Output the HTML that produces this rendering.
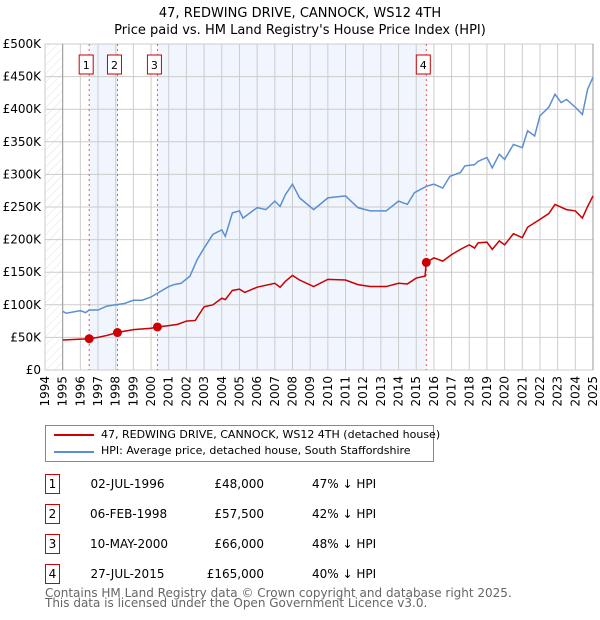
<!DOCTYPE html>
<html><head><meta charset="utf-8"><style>
body{margin:0;background:#fff;font-family:"DejaVu Sans","Liberation Sans",sans-serif;}
#wrap{position:relative;width:600px;height:620px;overflow:hidden}
.t{position:absolute;font-size:12px;color:#000;white-space:nowrap}
.box{position:absolute;width:13px;height:18px;border:1px solid #c00;font-size:12px;text-align:center;line-height:18px}
</style></head><body><div id="wrap">
<svg id="chart" width="600" height="420" style="position:absolute;left:0;top:0">
<defs><pattern id="hatch" width="6" height="6" patternUnits="userSpaceOnUse" patternTransform="rotate(45)"><line x1="0" y1="0" x2="0" y2="6" stroke="#e2e2e2" stroke-width="1"/></pattern></defs>
<text x="300" y="17" text-anchor="middle" font-size="13">47, REDWING DRIVE, CANNOCK, WS12 4TH</text>
<text x="300" y="34" text-anchor="middle" font-size="13">Price paid vs. HM Land Registry's House Price Index (HPI)</text>
<g id="bg"></g><g id="grid"></g><g id="lines"></g><g id="axes"></g>
</svg>
<div style="position:absolute;left:45px;top:425px;width:387px;height:35px;border:1px solid #888;font-size:11px">
<div style="position:absolute;left:8px;top:8px;width:40px;height:2px;background:#c00"></div>
<div class="t" style="left:55px;top:2px;font-size:11px">47, REDWING DRIVE, CANNOCK, WS12 4TH (detached house)</div>
<div style="position:absolute;left:8px;top:25px;width:40px;height:2px;background:#5b8fd1"></div>
<div class="t" style="left:55px;top:18px;font-size:11px">HPI: Average price, detached house, South Staffordshire</div>
</div>
<div id="table"></div>
<div class="t" style="left:45px;top:588px;color:#666;font-size:12px;line-height:10px">Contains HM Land Registry data © Crown copyright and database right 2025.<br>This data is licensed under the Open Government Licence v3.0.</div>
</div>
<script>
const hpiYears=[1995,1995.2,1996,1996.3,1996.5,1997,1997.5,1998,1998.5,1999,1999.5,2000,2000.5,2001,2001.3,2001.7,2002.2,2002.6,2003,2003.5,2004,2004.2,2004.6,2005,2005.2,2006,2006.5,2007,2007.3,2007.6,2008,2008.4,2009.2,2010,2011,2011.7,2012.4,2013.3,2014,2014.5,2014.9,2015.6,2016,2016.5,2016.9,2017.5,2017.75,2018.3,2018.5,2019,2019.3,2019.7,2020,2020.5,2021,2021.3,2021.7,2022,2022.5,2022.85,2023.2,2023.5,2024,2024.4,2024.7,2025];
const hpiValues=[90,87,91,88,92,92,98,100,102,107,107,112,120,128,131,133,144,169,187,208,215,205,241,244,233,249,246,259,251,269,285,264,246,264,267,249,244,244,259,254,272,282,285,279,297,303,313,315,320,326,310,331,323,346,341,367,359,390,403,423,410,415,403,392,431,449];
const priceYears=[1995,1996.5,1997,1997.5,1998.1,1999,2000,2000.36,2001,2001.5,2002,2002.5,2003,2003.5,2004,2004.2,2004.6,2005,2005.3,2006,2007,2007.3,2007.6,2008,2008.4,2009.2,2010,2011,2011.7,2012.4,2013.3,2014,2014.5,2015,2015.5,2015.57,2016,2016.5,2017,2017.5,2018,2018.3,2018.5,2019,2019.3,2019.7,2020,2020.5,2021,2021.3,2022,2022.5,2022.85,2023.5,2024,2024.4,2024.7,2025];
const priceValues=[46,48,50,53,57.5,62,64,66,68,70,75,76,97,100,110,108,122,124,119,127,133,127,136,145,138,128,139,138,131,128,128,133,132,141,144,165,172,167,177,185,192,187,195,196,185,198,192,209,203,219,231,240,254,246,244,233,251,267];
const saleYears=[1996.5,1998.1,2000.36,2015.57];
const saleValues=[48,57.5,66,165];
const saleDates=["02-JUL-1996","06-FEB-1998","10-MAY-2000","27-JUL-2015"];
const salePrices=["£48,000","£57,500","£66,000","£165,000"];
const saleHpi=["47% ↓ HPI","42% ↓ HPI","48% ↓ HPI","40% ↓ HPI"];
const yTicks=[0,50,100,150,200,250,300,350,400,450,500];
const yTickLabels=["£0","£50K","£100K","£150K","£200K","£250K","£300K","£350K","£400K","£450K","£500K"];
const xTicks=[1994,1995,1996,1997,1998,1999,2000,2001,2002,2003,2004,2005,2006,2007,2008,2009,2010,2011,2012,2013,2014,2015,2016,2017,2018,2019,2020,2021,2022,2023,2024,2025];
const X0=45,X1=593,Y0=370,Y1=44;
const sx=y=>X0+(y-1994)/(2025-1994)*(X1-X0);
const sy=v=>Y0-v/500*(Y0-Y1);
const NS="http://www.w3.org/2000/svg";
function mk(p,tag,a){const e=document.createElementNS(NS,tag);for(const k in a)e.setAttribute(k,a[k]);p.appendChild(e);return e;}
const bg=document.getElementById('bg'),grid=document.getElementById('grid'),lines=document.getElementById('lines'),axes=document.getElementById('axes');
let r=mk(bg,'rect',{x:X0,y:Y1,width:sx(1995)-X0,height:Y0-Y1,fill:'url(#hatch)'});


for(let i=0;i<saleYears.length;i+=2){const a=saleYears[i],b=saleYears[i+1];
 const s=mk(bg,'rect',{x:sx(a),y:Y1,width:sx(b)-sx(a),height:Y0-Y1,fill:'#eef3fd',opacity:0.8});
 
 }
yTicks.forEach((v,i)=>{const l=mk(grid,'line',{x1:X0,x2:X1,y1:sy(v),y2:sy(v),stroke:'#ccc'});
 
 
 const t=mk(axes,'text',{x:X0-4,y:sy(v)+4,'text-anchor':'end','font-size':12});t.textContent=yTickLabels[i];
 
 });
xTicks.forEach(y=>{const l=mk(grid,'line',{x1:sx(y),x2:sx(y),y1:Y1,y2:Y0,stroke:'#ccc'});
 
 
 const t=mk(axes,'text',{x:0,y:0,'text-anchor':'end','font-size':12,transform:`translate(${sx(y)+4},${Y0+6}) rotate(-90)`});t.textContent=y;
 
 });
let f=mk(grid,'rect',{x:X0,y:Y1,width:X1-X0,height:Y0-Y1,fill:'none',stroke:'#ccc'});


mk(grid,'line',{x1:sx(1995),x2:sx(1995),y1:Y1,y2:Y0,stroke:'#999'});
mk(grid,'line',{x1:X1,x2:X1,y1:Y1,y2:Y0,stroke:'#999'});
saleYears.forEach((y,i)=>{const l=mk(lines,'line',{x1:sx(y),x2:sx(y),y1:Y1,y2:Y0,stroke:'#e55','stroke-dasharray':'2,3'});
 
 
 const b=mk(lines,'rect',{x:sx(y)-10,y:55,width:14,height:19,fill:'#fff',stroke:'#c00'});
 
 
 const t=mk(lines,'text',{x:sx(y)-3,y:69,'text-anchor':'middle','font-size':11});t.textContent=i+1;
 
 });
const hp=mk(lines,'polyline',{points:hpiYears.map((y,i)=>sx(y)+','+sy(hpiValues[i])).join(' '),fill:'none',stroke:'#5b8fd1','stroke-width':1.5});


const pp=mk(lines,'polyline',{points:priceYears.map((y,i)=>sx(y)+','+sy(priceValues[i])).join(' '),fill:'none',stroke:'#c00','stroke-width':1.5});


saleYears.forEach((y,i)=>{const c=mk(lines,'circle',{cx:sx(y),cy:sy(saleValues[i]),r:4.5,fill:'#c00'});
 
 });
const tb=document.getElementById('table');
saleDates.forEach((d,i)=>{const top=474+i*30;
 const row=document.createElement('div');
 
 
 row.innerHTML=`<div class="box" style="left:45px;top:${top}px">${i+1}</div><div class="t" style="left:90px;width:75px;text-align:center;top:${top+3}px">${d}</div><div class="t" style="left:180px;width:84px;text-align:right;top:${top+3}px">${salePrices[i]}</div><div class="t" style="left:312px;top:${top+3}px">${saleHpi[i]}</div>`;
 tb.appendChild(row);});
</script></body></html>
